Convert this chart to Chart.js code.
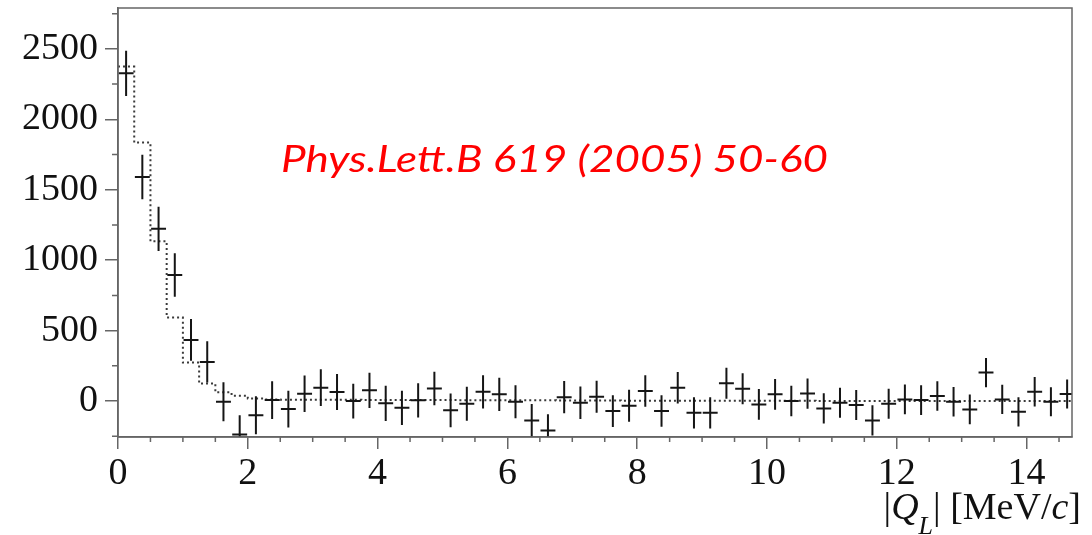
<!DOCTYPE html>
<html>
<head>
<meta charset="utf-8">
<title>|Q_L| spectrum</title>
<script src="https://cdn.jsdelivr.net/npm/chart.js@4.4.1/dist/chart.umd.min.js"></script>
<style>
  html, body { margin: 0; padding: 0; background: #fff; }
  #wrap { width: 1092px; height: 535px; }
</style>
</head>
<body>
<div id="wrap"><canvas id="ql" width="1092" height="535"></canvas></div>
<script>
// |Q_L| distribution: measured points with errors, dotted = fitted histogram
const qCenters = [
  0.125, 0.375, 0.625, 0.875, 1.125, 1.375, 1.625, 1.875, 2.125, 2.375,
  2.625, 2.875, 3.125, 3.375, 3.625, 3.875, 4.125, 4.375, 4.625, 4.875,
  5.125, 5.375, 5.625, 5.875, 6.125, 6.375, 6.625, 6.875, 7.125, 7.375,
  7.625, 7.875, 8.125, 8.375, 8.625, 8.875, 9.125, 9.375, 9.625, 9.875,
  10.125, 10.375, 10.625, 10.875, 11.125, 11.375, 11.625, 11.875, 12.125, 12.375,
  12.625, 12.875, 13.125, 13.375, 13.625, 13.875, 14.125, 14.375, 14.625
];
const counts = [
  2326, 1591, 1223, 895, 434, 278, -5, -238, -100, 7,
  -57, 52, 95, 64, 0, 76, -16, -48, 5, 90,
  -66, -19, 66, 48, -5, -137, -209, 28, -12, 31,
  -71, -33, 71, -71, 95, -83, -83, 126, 88, -24,
  48, 0, 53, -52, -12, -28, -137, -19, 12, 7,
  36, -5, -59, 202, 12, -76, 66, -5, 50
];
const countErr = [
  160, 158, 157, 154, 148, 146, 139, 137, 135, 134,
  130, 130, 130, 128, 123, 125, 125, 122, 122, 119,
  120, 120, 118, 118, 117, 116, 116, 115, 115, 114,
  113, 113, 112, 112, 112, 111, 111, 110, 110, 109,
  109, 108, 108, 107, 107, 107, 107, 106, 106, 106,
  105, 105, 105, 104, 104, 104, 104, 103, 103
];
const fitCounts = [
  2374, 1835, 1135, 593, 273, 124, 62, 38, 18, 12,
  10, 10, 9, 9, 9, 8, 8, 8, 7, 7,
  7, 6, 6, 6, 5, 5, 5, 4, 4, 4,
  4, 3, 3, 3, 3, 3, 2, 2, 2, 2,
  2, 2, 2, 1, 1, 1, 1, 1, 1, 1,
  1, 1, 1, 1, 1, 1, 1, 1, 1
];
const binEdges = [0, 14.75];          // outer edges of the histogram
const xRange = [0, 14.7];
const yRange = [-255, 2790];
const xTicks = [0, 2, 4, 6, 8, 10, 12, 14];
const yTicks = [0, 500, 1000, 1500, 2000, 2500];
const xMinor = [0.5, 1, 1.5, 2.5, 3, 3.5, 4.5, 5, 5.5, 6.5, 7, 7.5, 8.5, 9, 9.5,
                10.5, 11, 11.5, 12.5, 13, 13.5, 14.5];
const yMinor = [-250, 250, 750, 1250, 1750, 2250, 2750];
const refLabel = "Phys.Lett.B 619 (2005) 50-60";

const halfBar = 0.115;                // horizontal arm of each cross
const axisGrey = '#666';
const serif = "'Liberation Serif', 'Times New Roman', serif";

// fitted histogram as a stepped line through the bin centres
const fitLine = [{ x: binEdges[0], y: fitCounts[0] }]
  .concat(qCenters.map((q, i) => ({ x: q, y: fitCounts[i] })))
  .concat([{ x: binEdges[1], y: fitCounts[fitCounts.length - 1] }]);

const crosses = {
  id: 'crosses',
  afterDatasetsDraw(chart) {
    const { ctx, chartArea: a, scales: { x, y } } = chart;
    ctx.save();
    ctx.beginPath();
    ctx.rect(a.left, a.top, a.right - a.left, a.bottom - a.top);
    ctx.clip();
    ctx.strokeStyle = '#151515';
    ctx.lineWidth = 2;
    counts.forEach((c, i) => {
      const px = x.getPixelForValue(qCenters[i]);
      const py = y.getPixelForValue(c);
      ctx.beginPath();
      ctx.moveTo(px, y.getPixelForValue(c + countErr[i]));
      ctx.lineTo(px, y.getPixelForValue(c - countErr[i]));
      ctx.moveTo(x.getPixelForValue(qCenters[i] - halfBar), py);
      ctx.lineTo(x.getPixelForValue(qCenters[i] + halfBar), py);
      ctx.stroke();
    });
    ctx.restore();
  }
};

const frame = {
  id: 'frame',
  afterDraw(chart) {
    const { ctx, chartArea: a, scales: { x, y } } = chart;
    ctx.save();
    ctx.strokeStyle = axisGrey;
    ctx.lineWidth = 1.5;
    ctx.strokeRect(a.left, a.top, a.right - a.left, a.bottom - a.top);
    // minor ticks
    ctx.beginPath();
    xMinor.forEach(v => {
      const px = x.getPixelForValue(v);
      ctx.moveTo(px, a.bottom);
      ctx.lineTo(px, a.bottom + 5);
    });
    yMinor.forEach(v => {
      const py = y.getPixelForValue(v);
      ctx.moveTo(a.left, py);
      ctx.lineTo(a.left - 6, py);
    });
    ctx.stroke();

    // reference note
    ctx.fillStyle = '#ff0000';
    ctx.font = "italic 36px Lato, 'Open Sans', sans-serif";
    ctx.textBaseline = 'alphabetic';
    ctx.textAlign = 'left';
    const w = ctx.measureText(refLabel).width;
    ctx.save();
    ctx.translate(281, 172);
    ctx.scale(547 / w, 1);
    ctx.fillText(refLabel, 0, 0);
    ctx.restore();

    // axis title |Q_L| [MeV/c]
    const runs = [
      { t: '|', f: `38px ${serif}`, dy: 0 },
      { t: 'Q', f: `italic 38px ${serif}`, dy: 0 },
      { t: 'L', f: `italic 26px ${serif}`, dy: 15 },
      { t: '| [MeV/', f: `38px ${serif}`, dy: 0 },
      { t: 'c', f: `italic 38px ${serif}`, dy: 0 },
      { t: ']', f: `38px ${serif}`, dy: 0 }
    ];
    ctx.fillStyle = '#111';
    let total = 0;
    runs.forEach(r => { ctx.font = r.f; r.w = ctx.measureText(r.t).width; total += r.w; });
    let cx = 1081 - total;
    const base = 519;
    runs.forEach(r => {
      ctx.font = r.f;
      ctx.fillText(r.t, cx, base + r.dy);
      cx += r.w;
    });
    ctx.restore();
  }
};

const tickFont = { family: serif, size: 38 };

new Chart(document.getElementById('ql').getContext('2d'), {
  type: 'scatter',
  data: {
    datasets: [
      {
        label: 'fit',
        data: fitLine,
        showLine: true,
        stepped: 'middle',
        borderColor: '#3a3a3a',
        borderWidth: 2,
        borderDash: [2, 3],
        pointRadius: 0,
        fill: false
      },
      {
        label: 'data',
        data: qCenters.map((q, i) => ({ x: q, y: counts[i] })),
        pointRadius: 0,
        showLine: false
      }
    ]
  },
  options: {
    responsive: false,
    animation: false,
    layout: { padding: { top: 8, right: 20, left: 0, bottom: 0 } },
    plugins: { legend: { display: false }, tooltip: { enabled: false } },
    scales: {
      x: {
        type: 'linear',
        min: xRange[0],
        max: xRange[1],
        afterBuildTicks: s => { s.ticks = xTicks.map(v => ({ value: v })); },
        afterFit: s => { s.height = 98; s.paddingLeft = 0; s.paddingRight = 0; },
        ticks: { font: tickFont, color: '#111', padding: 2, maxRotation: 0, autoSkip: false,
                 callback: v => String(v) },
        grid: { drawOnChartArea: false, drawTicks: true, tickLength: 12, color: axisGrey, lineWidth: 1.5 },
        border: { display: true, color: axisGrey, width: 1.5 }
      },
      y: {
        type: 'linear',
        min: yRange[0],
        max: yRange[1],
        afterBuildTicks: s => { s.ticks = yTicks.map(v => ({ value: v })); },
        afterFit: s => { s.width = 118; s.paddingTop = 0; s.paddingBottom = 0; },
        ticks: { font: tickFont, color: '#111', padding: 7, autoSkip: false,
                 callback: v => String(v) },
        grid: { drawOnChartArea: false, drawTicks: true, tickLength: 13, color: axisGrey, lineWidth: 1.5 },
        border: { display: true, color: axisGrey, width: 1.5 }
      }
    }
  },
  plugins: [crosses, frame]
});
</script>
</body>
</html>
